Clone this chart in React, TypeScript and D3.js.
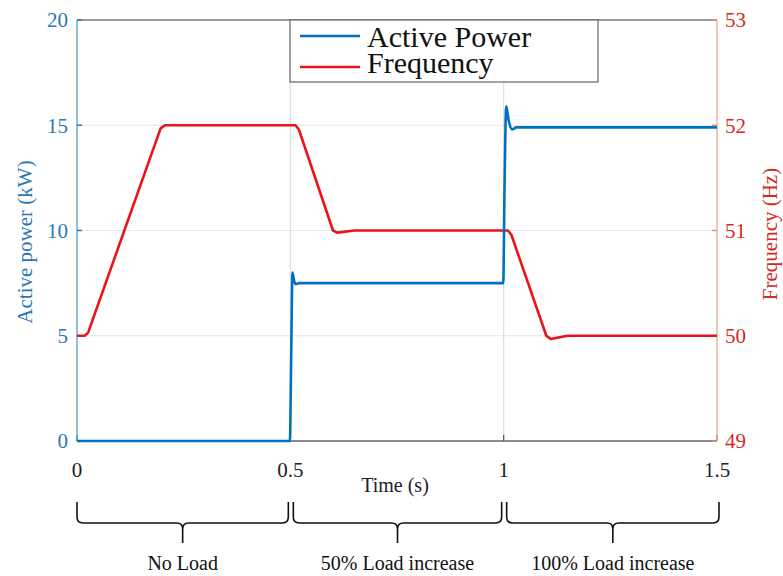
import React from "react";
import * as d3 from "d3";

const powerTime = [0, 0.499, 0.502, 0.505, 0.509, 0.513, 0.52, 0.999, 1.002, 1.006, 1.012, 1.02, 1.03, 1.5];
const powerKW = [0, 0, 4, 8.0, 7.6, 7.45, 7.5, 7.5, 12, 15.9, 15.2, 14.8, 14.9, 14.9];

const freqTime = [0, 0.018, 0.026, 0.196, 0.206, 0.512, 0.52, 0.6, 0.61, 0.65, 1.01, 1.018, 1.1, 1.11, 1.15, 1.5];
const freqHz = [50, 50, 50.03, 51.97, 52, 52, 51.96, 51.0, 50.98, 51.0, 51.0, 50.96, 50.0, 49.97, 50.0, 50.0];

const xTicks = [0, 0.5, 1, 1.5];
const xTickLabels = ["0", "0.5", "1", "1.5"];
const powerTicks = [0, 5, 10, 15, 20];
const freqTicks = [49, 50, 51, 52, 53];

const segments = [
  { from: 0, to: 0.5, label: "No Load" },
  { from: 0.5, to: 1, label: "50% Load increase" },
  { from: 1, to: 1.5, label: "100% Load increase" },
];

const legendItems = [
  { label: "Active Power", color: "#0072BD" },
  { label: "Frequency", color: "#e8141a" },
];

const FONT = "'Liberation Serif', 'Times New Roman', serif";

export default function App() {
  const W = 783, H = 576;
  const left = 77, right = 717, top = 20, bottom = 441;
  const x = d3.scaleLinear().domain([0, 1.5]).range([left, right]);
  const yP = d3.scaleLinear().domain([0, 20]).range([bottom, top]);
  const yF = d3.scaleLinear().domain([49, 53]).range([bottom, top]);

  const blue = "#0072BD";
  const red = "#e8141a";
  const blueText = "#2a78b4";
  const redText = "#d42a22";

  const powerLine = d3
    .line<number>()
    .x((_, i) => x(powerTime[i]))
    .y((d) => yP(d))
    .curve(d3.curveMonotoneX)(powerKW) as string;
  const freqLine = d3
    .line<number>()
    .x((_, i) => x(freqTime[i]))
    .y((d) => yF(d))
    .curve(d3.curveLinear)(freqHz) as string;

  const braceTop = 502, braceMid = 523, braceTip = 543;
  const bracePath = (x0: number, x1: number) => {
    const m = (x0 + x1) / 2;
    const r = 6;
    return `M${x0},${braceTop} L${x0},${braceMid - r} Q${x0},${braceMid} ${x0 + r},${braceMid} L${m - r},${braceMid} Q${m},${braceMid} ${m},${braceMid + r} L${m},${braceTip} M${m},${braceMid + r} Q${m},${braceMid} ${m + r},${braceMid} L${x1 - r},${braceMid} Q${x1},${braceMid} ${x1},${braceMid - r} L${x1},${braceTop}`;
  };

  return (
    <svg width={W} height={H} style={{ position: "absolute", left: 0, top: 0, background: "#fff" }} fontFamily={FONT}>
      {/* grid */}
      {powerTicks.slice(1, -1).map((t) => (
        <line key={"hg" + t} x1={left} x2={right} y1={yP(t)} y2={yP(t)} stroke="#dde9f4" strokeWidth={1.2} />
      ))}
      {xTicks.slice(1, -1).map((t) => (
        <line key={"vg" + t} x1={x(t)} x2={x(t)} y1={top} y2={bottom} stroke="#dedede" strokeWidth={1.2} />
      ))}
      {/* top & bottom frame */}
      <line x1={left} x2={right} y1={top} y2={top} stroke="#777" strokeWidth={1.3} />
      <line x1={left} x2={right} y1={bottom} y2={bottom} stroke="#666" strokeWidth={1.3} />
      {xTicks.map((t) => (
        <line key={"xt" + t} x1={x(t)} x2={x(t)} y1={bottom} y2={bottom - 6} stroke="#555" strokeWidth={1.2} />
      ))}
      {/* left axis */}
      <line x1={left} x2={left} y1={top} y2={bottom} stroke="#5b9bd0" strokeWidth={1.3} />
      {powerTicks.map((t) => (
        <g key={"pt" + t}>
          <line x1={left} x2={left + 5} y1={yP(t)} y2={yP(t)} stroke="#2a78b4" strokeWidth={1.5} />
          <text x={68} y={yP(t)} dy="0.35em" textAnchor="end" fontSize={21} fill={blueText}>
            {t}
          </text>
        </g>
      ))}
      {/* right axis */}
      <line x1={right} x2={right} y1={top} y2={bottom} stroke="#f0a88c" strokeWidth={1.3} />
      {freqTicks.map((t) => (
        <g key={"ft" + t}>
          <line x1={right} x2={right - 5} y1={yF(t)} y2={yF(t)} stroke="#e8906c" strokeWidth={1.5} />
          <text x={725} y={yF(t)} dy="0.35em" textAnchor="start" fontSize={21} fill={redText}>
            {t}
          </text>
        </g>
      ))}
      {/* series */}
      <path d={freqLine} fill="none" stroke={red} strokeWidth={2.6} strokeLinejoin="round" />
      <path d={powerLine} fill="none" stroke={blue} strokeWidth={2.6} strokeLinejoin="round" />
      {/* x tick labels */}
      {xTicks.map((t, i) => (
        <text key={"xl" + t} x={x(t)} y={477} textAnchor="middle" fontSize={21} fill="#222">
          {xTickLabels[i]}
        </text>
      ))}
      <text x={395} y={492} textAnchor="middle" fontSize={20} fill="#222">
        Time (s)
      </text>
      {/* axis titles */}
      <text transform={`translate(32,242) rotate(-90)`} textAnchor="middle" fontSize={21} fill={blueText}>
        Active power (kW)
      </text>
      <text transform={`translate(777,234) rotate(-90)`} textAnchor="middle" fontSize={21} fill={redText}>
        Frequency (Hz)
      </text>
      {/* legend */}
      <rect x={290} y={top} width={308} height={62} fill="#fff" stroke="#666" strokeWidth={1.2} />
      {legendItems.map((d, i) => (
        <g key={d.label}>
          <line x1={300} x2={360} y1={36 + i * 31} y2={36 + i * 31} stroke={d.color} strokeWidth={2.6} />
          <text x={367} y={47 + i * 26} fontSize={30} fill="#111">
            {d.label}
          </text>
        </g>
      ))}
      {/* braces */}
      {segments.map((s, i) => {
        const x0 = x(s.from) + (i === 0 ? 0 : 3);
        const x1 = x(s.to) - (i === segments.length - 1 ? -2 : 2);
        return (
          <g key={s.label}>
            <path d={bracePath(x0, x1)} fill="none" stroke="#111" strokeWidth={1.6} />
            <text x={(x0 + x1) / 2} y={570} textAnchor="middle" fontSize={20} fill="#111">
              {s.label}
            </text>
          </g>
        );
      })}
    </svg>
  );
}
